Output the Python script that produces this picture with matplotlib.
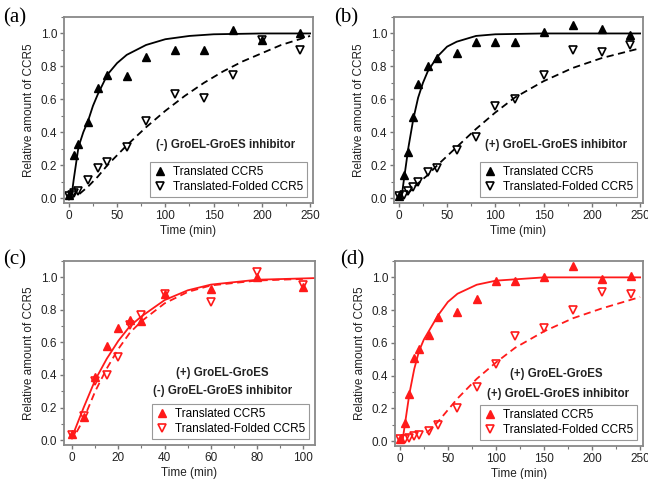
import matplotlib
matplotlib.use('Agg')
import matplotlib.pyplot as plt
from matplotlib.ticker import MultipleLocator

plt.rcParams['font.family'] = ['Liberation Sans', 'DejaVu Sans']

# ---- (a) no GroEL-GroES, no inhibitor ----
a_t_tri = [0, 5, 10, 20, 30, 40, 60, 80, 110, 140, 170, 200, 240]
a_y_tri = [0.02, 0.26, 0.33, 0.46, 0.67, 0.75, 0.74, 0.86, 0.90, 0.90, 1.02, 0.96, 1.00]
a_t_fold = [0, 3, 5, 10, 20, 30, 40, 60, 80, 110, 140, 170, 200, 240]
a_y_fold = [0.01, 0.02, 0.03, 0.04, 0.11, 0.18, 0.22, 0.31, 0.47, 0.63, 0.61, 0.75, 0.96, 0.90]
a_t_fit1 = [3, 5, 10, 15, 20, 25, 30, 40, 50, 60, 80, 100, 125, 150, 200, 250]
a_y_fit1 = [0.02, 0.11, 0.31, 0.40, 0.47, 0.56, 0.63, 0.75, 0.82, 0.87, 0.93, 0.965, 0.985, 0.995, 1.0, 1.0]
a_t_fit2 = [11, 20, 30, 40, 50, 60, 80, 100, 120, 140, 160, 180, 200, 220, 250]
a_y_fit2 = [0.025, 0.07, 0.13, 0.20, 0.26, 0.32, 0.43, 0.53, 0.62, 0.70, 0.77, 0.83, 0.88, 0.93, 0.985]

# ---- (b) inhibitor ----
b_t_tri = [0, 5, 10, 15, 20, 30, 40, 60, 80, 100, 120, 150, 180, 210, 240]
b_y_tri = [0.01, 0.14, 0.28, 0.49, 0.69, 0.80, 0.85, 0.88, 0.95, 0.95, 0.95, 1.01, 1.05, 1.03, 0.99]
b_t_fold = [0, 5, 10, 15, 20, 30, 40, 60, 80, 100, 120, 150, 180, 210, 240]
b_y_fold = [0.01, 0.02, 0.04, 0.07, 0.10, 0.16, 0.18, 0.29, 0.37, 0.56, 0.60, 0.75, 0.90, 0.89, 0.93]
b_t_fit1 = [3, 5, 10, 15, 20, 25, 30, 40, 50, 60, 80, 100, 150, 250]
b_y_fit1 = [0.01, 0.10, 0.31, 0.48, 0.61, 0.70, 0.77, 0.86, 0.92, 0.95, 0.985, 0.995, 1.0, 1.0]
b_t_fit2 = [8, 20, 30, 40, 60, 80, 100, 120, 150, 180, 210, 250]
b_y_fit2 = [0.02, 0.09, 0.14, 0.20, 0.31, 0.42, 0.52, 0.61, 0.71, 0.79, 0.85, 0.91]

# ---- (c) GroEL-GroES, no inhibitor ----
c_t_tri = [0, 5, 10, 15, 20, 25, 30, 40, 60, 80, 100]
c_y_tri = [0.04, 0.14, 0.39, 0.58, 0.69, 0.74, 0.73, 0.90, 0.93, 1.00, 0.94]
c_t_fold = [0, 5, 10, 15, 20, 25, 30, 40, 60, 80, 100]
c_y_fold = [0.03, 0.15, 0.36, 0.40, 0.51, 0.71, 0.77, 0.90, 0.85, 1.03, 0.95]
c_t_fit1 = [0, 5, 10, 15, 20, 25, 30, 40, 50, 60, 80, 105]
c_y_fit1 = [0.02, 0.20, 0.37, 0.50, 0.61, 0.70, 0.76, 0.86, 0.92, 0.955, 0.985, 0.995]
c_t_fit2 = [2, 5, 10, 15, 20, 25, 30, 40, 50, 60, 80, 100]
c_y_fit2 = [0.05, 0.13, 0.30, 0.44, 0.56, 0.66, 0.73, 0.84, 0.91, 0.95, 0.98, 0.99]

# ---- (d) GroEL-GroES + inhibitor ----
d_t_tri = [0, 5, 10, 15, 20, 30, 40, 60, 80, 100, 120, 150, 180, 210, 240]
d_y_tri = [0.01, 0.11, 0.29, 0.51, 0.56, 0.65, 0.76, 0.79, 0.87, 0.98, 0.98, 1.00, 1.07, 0.99, 1.01]
d_t_fold = [0, 5, 10, 15, 20, 30, 40, 60, 80, 100, 120, 150, 180, 210, 240]
d_y_fold = [0.01, 0.01, 0.02, 0.03, 0.04, 0.06, 0.10, 0.20, 0.33, 0.47, 0.64, 0.69, 0.80, 0.91, 0.90]
d_t_fit1 = [3, 5, 10, 15, 20, 25, 30, 40, 50, 60, 80, 100, 150, 250]
d_y_fit1 = [0.01, 0.09, 0.29, 0.44, 0.55, 0.62, 0.67, 0.77, 0.85, 0.90, 0.955, 0.98, 1.0, 1.0]
d_t_fit2 = [28, 40, 60, 80, 100, 120, 150, 180, 210, 250]
d_y_fit2 = [0.05, 0.12, 0.26, 0.38, 0.48, 0.57, 0.67, 0.75, 0.81, 0.88]

panel_labels = ['(a)', '(b)', '(c)', '(d)']
notes = [['(-) GroEL-GroES inhibitor'],
         ['(+) GroEL-GroES inhibitor'],
         ['(+) GroEL-GroES', '(-) GroEL-GroES inhibitor'],
         ['(+) GroEL-GroES', '(+) GroEL-GroES inhibitor']]
leg_labels = ['Translated CCR5', 'Translated-Folded CCR5']

fig = plt.figure(figsize=(6.48, 4.79), dpi=100)
W, H = 648, 479
# axes boxes in pixels: left, top, right, bottom
boxes = [(64, 17, 313, 203), (394, 17, 643, 203),
         (64, 261, 315, 445), (395, 261, 643, 446)]

panels = [
    (a_t_tri, a_y_tri, a_t_fold, a_y_fold, a_t_fit1, a_y_fit1, a_t_fit2, a_y_fit2, 'black', (-5, 253), 50),
    (b_t_tri, b_y_tri, b_t_fold, b_y_fold, b_t_fit1, b_y_fit1, b_t_fit2, b_y_fit2, 'black', (-5, 253), 50),
    (c_t_tri, c_y_tri, c_t_fold, c_y_fold, c_t_fit1, c_y_fit1, c_t_fit2, c_y_fit2, '#ff1a1a', (-3.5, 105), 20),
    (d_t_tri, d_y_tri, d_t_fold, d_y_fold, d_t_fit1, d_y_fit1, d_t_fit2, d_y_fit2, '#ff1a1a', (-5, 253), 50),
]

note_pos = [[(162, 0.32)], [(163, 0.32)], [(65, 0.41), (65, 0.30)], [(163, 0.41), (165, 0.29)]]
# panel letter positions, pixels from top-left
label_pos = [(3, 8), (334, 8), (3, 250), (340, 250)]

for i, (box, p) in enumerate(zip(boxes, panels)):
    l, t, r, b = box
    ax = fig.add_axes([l / W, 1 - b / H, (r - l) / W, (b - t) / H])
    tt, yt, tf, yf, t1, y1, t2, y2, col, xl, xstep = p

    ax.plot(t1, y1, '-', color=col, lw=1.3)
    ax.plot(t2, y2, color=col, lw=1.3, ls=(0, (4, 2.5)))
    h1, = ax.plot(tt, yt, '^', color=col, ms=5.5, ls='none', label=leg_labels[0])
    h2, = ax.plot(tf, yf, 'v', mfc='none', mec=col, mew=1.2, ms=6, ls='none', label=leg_labels[1])

    ax.set_xlim(*xl)
    ax.set_ylim(-0.03, 1.1)
    ax.xaxis.set_major_locator(MultipleLocator(xstep))
    ax.xaxis.set_minor_locator(MultipleLocator(xstep / 2))
    ax.yaxis.set_major_locator(MultipleLocator(0.2))
    ax.yaxis.set_minor_locator(MultipleLocator(0.1))
    ax.yaxis.set_major_formatter(plt.FormatStrFormatter('%.1f'))
    ax.tick_params(which='both', direction='out', color='#777777', labelsize=8.5,
                   labelcolor='#222222', pad=2)
    ax.tick_params(which='major', length=3, width=1)
    ax.tick_params(which='minor', length=2, width=0.8)
    for s in ax.spines.values():
        s.set_color('#888888')
        s.set_linewidth(1.3)

    ax.set_xlabel('Time (min)', fontsize=8.5, labelpad=2, color='#222222')
    ax.set_ylabel('Relative amount of CCR5', fontsize=8.5, labelpad=4, color='#222222')

    leg = ax.legend(handles=[h1, h2], loc='lower right', fontsize=8.5, frameon=True,
                    fancybox=False, edgecolor='#999999', framealpha=1,
                    handlelength=1.0, handletextpad=0.6, borderpad=0.35,
                    labelspacing=0.25, borderaxespad=0.5)
    leg.get_frame().set_linewidth(0.8)

    for txt, (x, y) in zip(notes[i], note_pos[i]):
        ax.text(x, y, txt, ha='center', va='center', fontsize=8.3, fontweight='bold', color='#222222')

    fig.text(label_pos[i][0] / W, 1 - label_pos[i][1] / H, panel_labels[i], fontsize=15,
             family=['Liberation Serif', 'DejaVu Serif'], ha='left', va='top')

plt.savefig('out.png', dpi=100)
